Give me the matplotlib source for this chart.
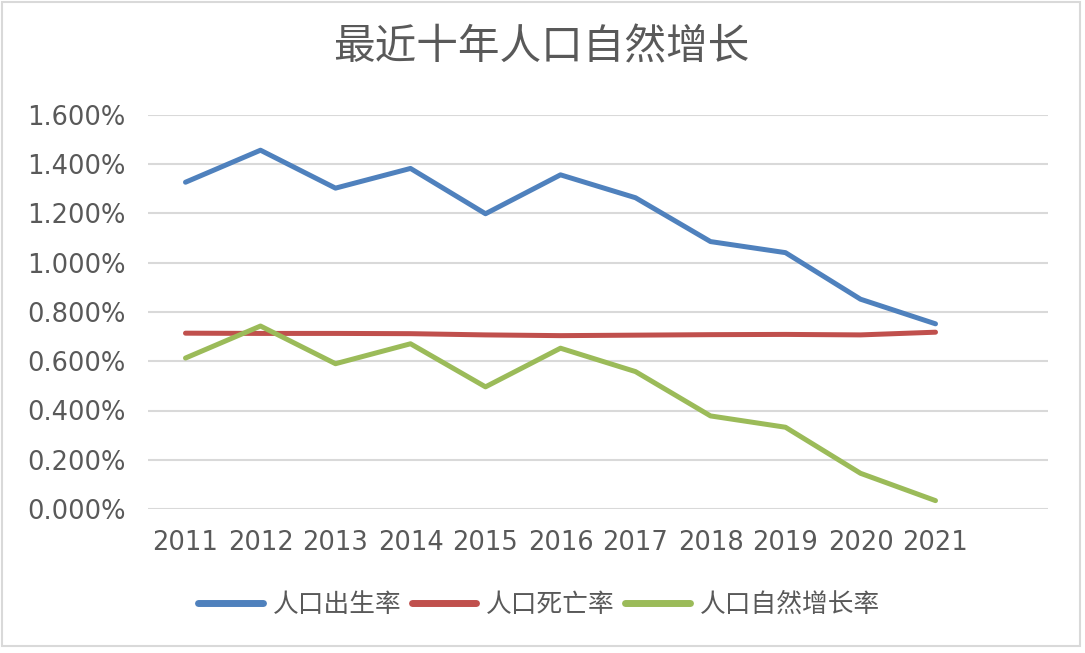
import matplotlib
matplotlib.use('Agg')
import matplotlib.pyplot as plt
from matplotlib.patches import Rectangle
from matplotlib.ticker import FuncFormatter, MultipleLocator

plt.rcParams['font.family'] = ['Noto Sans CJK SC', 'DejaVu Sans']

YEARS       = ['2011', '2012', '2013', '2014', '2015', '2016',
               '2017', '2018', '2019', '2020', '2021']
BIRTH_RATE  = [1.327, 1.457, 1.303, 1.383, 1.199, 1.357,
               1.264, 1.086, 1.041, 0.852, 0.752]
DEATH_RATE  = [0.714, 0.713, 0.713, 0.712, 0.707, 0.704,
               0.706, 0.708, 0.709, 0.707, 0.718]
GROWTH_RATE = [0.613, 0.743, 0.590, 0.671, 0.496, 0.653,
               0.558, 0.378, 0.332, 0.145, 0.034]
SERIES_NAMES = ['人口出生率', '人口死亡率', '人口自然增长率']
COLORS = ['#4F81BD', '#C0504D', '#9BBB59']
TEXT_COLOR = '#595959'

fig = plt.figure(figsize=(10.85, 6.53), dpi=100)
fig.patch.set_facecolor('white')
ax = fig.add_axes([148 / 1085, 1 - 509 / 653, 900 / 1085, 394 / 653])

x = list(range(len(YEARS)))
for vals, name, color in zip([BIRTH_RATE, DEATH_RATE, GROWTH_RATE], SERIES_NAMES, COLORS):
    ax.plot(x, vals, color=color, linewidth=3.6, label=name,
            solid_capstyle='round', solid_joinstyle='round', zorder=3)

ax.set_xlim(-0.5, len(YEARS) + 0.5)
ax.set_ylim(0, 1.6)
ax.yaxis.set_major_locator(MultipleLocator(0.2))
ax.yaxis.set_major_formatter(FuncFormatter(lambda v, _: '{:.3f}%'.format(v)))
ax.set_xticks(x)
ax.set_xticklabels(YEARS)

ax.yaxis.grid(True, color='#D9D9D9', linewidth=1.5)
ax.set_axisbelow(True)
for spine in ax.spines.values():
    spine.set_visible(False)
ax.tick_params(axis='both', length=0, labelsize=18.5, labelcolor=TEXT_COLOR)
ax.tick_params(axis='y', pad=16)
ax.tick_params(axis='x', pad=15)
for lbl in ax.get_xticklabels() + ax.get_yticklabels():
    lbl.set_fontfamily('DejaVu Sans')

fig.text(0.499, 1 - 48 / 653, '最近十年人口自然增长', ha='center', va='center',
         fontsize=30, color=TEXT_COLOR, fontweight='light')

leg = fig.legend(loc='center', bbox_to_anchor=(0.497, 1 - 605 / 653), ncol=3,
                 frameon=False, fontsize=18.5, handlelength=2.5,
                 handletextpad=0.4, columnspacing=0.4)
for line in leg.get_lines():
    line.set_linewidth(5)
    line.set_solid_capstyle('round')
for t in leg.get_texts():
    t.set_color(TEXT_COLOR)

fig.patches.append(Rectangle((2 / 1085, 7 / 653), 1078 / 1085, 644 / 653,
                             transform=fig.transFigure, fill=False,
                             edgecolor='#D9D9D9', linewidth=1.5))

fig.savefig('out.png', dpi=100, facecolor='white')
